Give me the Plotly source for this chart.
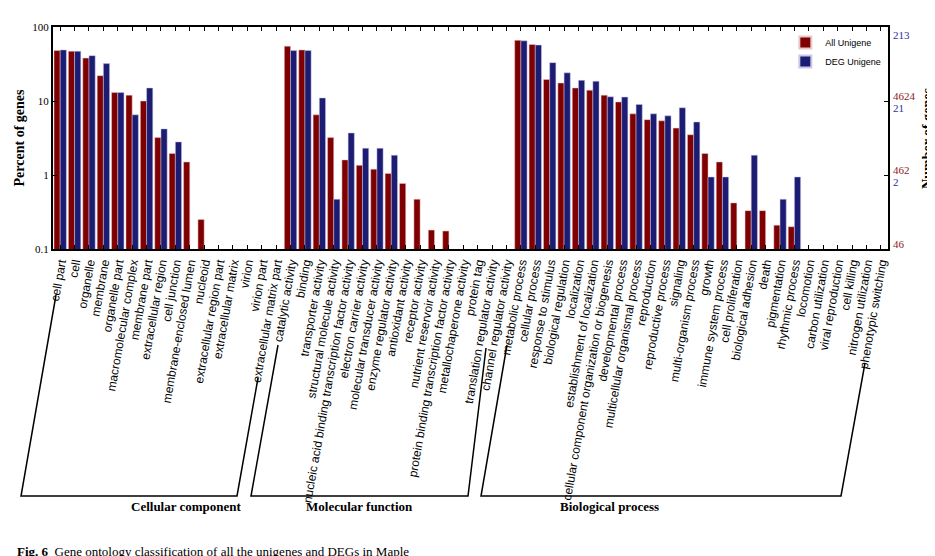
import plotly.graph_objects as go

CC = ['cell part', 'cell', 'organelle', 'membrane', 'organelle part', 'macromolecular complex',
      'membrane part', 'extracellular region', 'cell junction', 'membrane-enclosed lumen', 'nucleoid',
      'extracellular region part', 'extracellular matrix', 'virion', 'virion part',
      'extracellular matrix part']
MF = ['catalytic activity', 'binding', 'transporter activity', 'structural molecule activity',
      'nucleic acid binding transcription factor activity', 'electron carrier activity',
      'molecular transducer activity', 'enzyme regulator activity', 'antioxidant activity',
      'receptor activity', 'nutrient reservoir activity', 'protein binding transcription factor activity',
      'metallochaperone activity', 'protein tag', 'translation regulator activity',
      'channel regulator activity']
BP = ['metabolic process', 'cellular process', 'response to stimulus', 'biological regulation',
      'localization', 'establishment of localization', 'cellular component organization or biogenesis',
      'developmental process', 'multicellular organismal process', 'reproduction', 'reproductive process',
      'signaling', 'multi-organism process', 'growth', 'immune system process', 'cell proliferation',
      'biological adhesion', 'death', 'pigmentation', 'rhythmic process', 'locomotion',
      'carbon utilization', 'viral reproduction', 'cell killing', 'nitrogen utilization',
      'phenotypic switching']

cc_all = [48, 47, 38, 22, 13, 12, 10, 3.2, 1.95, 1.5, 0.25, None, None, None, None, None]
cc_deg = [49, 47, 41, 32, 13, 6.5, 15, 4.2, 2.8, None, None, None, None, None, None, None]
mf_all = [55, 49, 6.5, 3.2, 1.6, 1.35, 1.2, 1.05, 0.77, 0.47, 0.18, 0.175, None, None, None, None]
mf_deg = [48, 48, 11, 0.47, 3.7, 2.3, 2.3, 1.85, None, None, None, None, None, None, None, None]
bp_all = [66, 58, 19.5, 17.5, 15, 14, 12, 9.7, 6.7, 5.6, 5.4, 4.3, 3.5, 1.95, 1.5, 0.42, 0.33,
          0.33, 0.21, 0.2, None, None, None, None, None, None]
bp_deg = [65, 57, 33, 24, 19, 18.5, 11.4, 11.3, 9, 6.7, 6.3, 8.1, 5.2, 0.94, 0.94, None, 1.85,
          None, 0.47, 0.94, None, None, None, None, None, None]

cats = CC + MF + BP
all_vals = cc_all + mf_all + bp_all
deg_vals = cc_deg + mf_deg + bp_deg

right_red = [('46243', 2.08), ('4624', 1.07), ('462', 0.07), ('46', -0.93)]
right_blue = [('213', 1.89), ('21', 0.905), ('2', -0.095), ('0', -1.09)]

RED = '#7f0000'
BLUE = '#1c1c72'

fig = go.Figure()
fig.add_trace(go.Bar(x=cats, y=all_vals, name='All Unigene', marker_color=RED,
                     marker_line=dict(width=0.5, color='#e8c8c8')))
fig.add_trace(go.Bar(x=cats, y=deg_vals, name='DEG Unigene', marker_color=BLUE,
                     marker_line=dict(width=0.5, color='#c8c8e8')))

serif = 'Liberation Serif'
sans = 'Liberation Sans'

fig.update_layout(
    width=935, height=556,
    margin=dict(l=45, r=55, t=19, b=315, autoexpand=False),
    plot_bgcolor='white', paper_bgcolor='white',
    barmode='group', bargap=0.14, bargroupgap=0,
    showlegend=True,
    legend=dict(x=0.998, y=0.995, xanchor='right', yanchor='top', bgcolor='rgba(0,0,0,0)',
                font=dict(family=sans, size=9, color='black'), itemwidth=30, tracegroupgap=0,
                itemsizing='constant'),
    xaxis=dict(tickangle=-80, tickfont=dict(family=sans, size=12, color='black'), automargin=False,
               showline=True, linecolor='black', linewidth=2, mirror='ticks',
               ticks='inside', ticklen=4, tickcolor='black', range=[-0.5, len(cats) - 0.5]),
    yaxis=dict(type='log', range=[-1, 2], tickvals=[0.1, 1, 10, 100], automargin=False,
               ticktext=['0.1', '1', '10', '100'],
               tickfont=dict(family=serif, size=11, color='black'),
               showline=True, linecolor='black', linewidth=2, mirror='ticks',
               ticks='inside', ticklen=4, tickcolor='black', showgrid=False,
               title=dict(text='<b>Percent of genes</b>', font=dict(family=serif, size=14, color='black'),
                          standoff=4)),
)

ann = []
for t, v in right_red:
    ann.append(dict(x=1.003, y=v, xref='paper', yref='y', text=t, showarrow=False, xanchor='left',
                    font=dict(family=serif, size=11, color='#8b1a1a')))
for t, v in right_blue:
    ann.append(dict(x=1.003, y=v, xref='paper', yref='y', text=t, showarrow=False, xanchor='left',
                    font=dict(family=serif, size=11, color='#2e3192')))
ann.append(dict(x=1.058, y=0.5, xref='paper', yref='paper', text='<b>Number of genes</b>',
                textangle=-90, showarrow=False, font=dict(family=serif, size=14, color='black')))


def px(x, y):
    return (x - 45) / 835, (241 - y) / 222


groups = [('Cellular component', (48, 287), (13, 488), (229, 488), (250, 370)),
          ('Molecular function', (270, 337), (243, 488), (460, 488), (478, 340)),
          ('Biological process', (499, 337), (473, 488), (833, 488), (857, 355))]
shapes = []
for name, a, b, c, d in groups:
    pts = [px(*p) for p in (a, b, c, d)]
    path = 'M {} {} L {} {} L {} {} L {} {}'.format(*[v for p in pts for v in p])
    shapes.append(dict(type='path', path=path, xref='paper', yref='paper',
                       line=dict(color='black', width=1.5)))
    mx, my = px((b[0] + c[0]) / 2, 498)
    ann.append(dict(x=mx, y=my, xref='paper', yref='paper', text='<b>' + name + '</b>',
                    showarrow=False, yanchor='middle', font=dict(family=serif, size=13, color='black')))

cx, cy = px(7, 543)
ann.append(dict(x=cx, y=cy, xref='paper', yref='paper', xanchor='left', yanchor='middle',
                text='<b>Fig. 6</b>  Gene ontology classification of all the unigenes and DEGs in Maple',
                showarrow=False, font=dict(family=serif, size=13, color='black')))

fig.update_layout(annotations=ann, shapes=shapes)
fig.write_html('out.html')
